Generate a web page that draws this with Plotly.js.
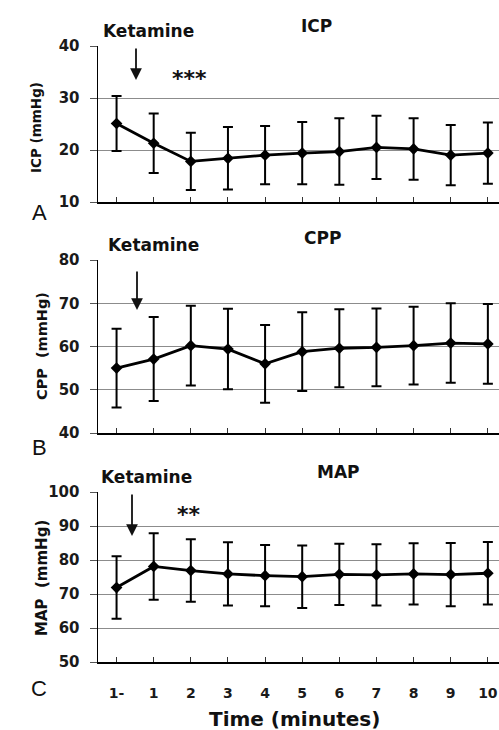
<!DOCTYPE html>
<html>
<head>
<meta charset="utf-8">
<script src="https://cdn.plot.ly/plotly-3.0.1.min.js"></script>
<style>html,body{margin:0;padding:0;background:#fff;}#chart{width:499px;height:730px;}</style>
</head>
<body>
<div id="chart"></div>
<script>
// ---- data ----
var timeLabels = ["1-","1","2","3","4","5","6","7","8","9","10"];
var icpMean = [25.1, 21.3, 17.8, 18.4, 19.0, 19.4, 19.7, 20.5, 20.2, 19.0, 19.4];
var icpSD   = [5.3, 5.7, 5.5, 6.0, 5.6, 6.0, 6.4, 6.1, 5.9, 5.8, 5.9];
var cppMean = [55.0, 57.1, 60.2, 59.4, 56.0, 58.8, 59.6, 59.8, 60.2, 60.8, 60.6];
var cppSD   = [9.1, 9.7, 9.2, 9.3, 9.0, 9.1, 9.0, 9.0, 9.0, 9.2, 9.2];
var mapMean = [71.9, 78.1, 76.9, 75.9, 75.4, 75.1, 75.8, 75.6, 75.9, 75.7, 76.1];
var mapSD   = [9.2, 9.8, 9.2, 9.3, 9.0, 9.2, 9.0, 9.0, 9.0, 9.3, 9.2];
var panelTitles = ["ICP", "CPP", "MAP"];
var yTitles = ["ICP (mmHg)", "CPP  (mmHg)", "MAP  (mmHg)"];
var panelLetters = ["A", "B", "C"];
var yTicks = [[10,20,30,40],[40,50,60,70,80],[50,60,70,80,90,100]];

// ---- layout helpers (pixel -> paper) ----
var W = 499, H = 730;
function px(x){ return x / W; }
function py(y){ return 1 - y / H; }
var BOLD = "DejaVu Sans, Arial, sans-serif";

function trace(y, sd, xa, ya){
  return {
    x: timeLabels, y: y, xaxis: xa, yaxis: ya,
    type: "scatter", mode: "lines+markers",
    line: {color: "#000", width: 2.8},
    marker: {symbol: "diamond", size: 9, color: "#000"},
    error_y: {type: "data", array: sd, symmetric: true, color: "#000", thickness: 2, width: 5},
    showlegend: false, hoverinfo: "skip"
  };
}

var data = [
  trace(icpMean, icpSD, "x", "y"),
  trace(cppMean, cppSD, "x2", "y2"),
  trace(mapMean, mapSD, "x3", "y3")
];

function xaxis(anchor, showLabels){
  return {
    type: "category", anchor: anchor, domain: [px(98), 1],
    range: [-0.5, 10.3], showgrid: false, zeroline: false,
    showline: true, linecolor: "#000", linewidth: 1.5,
    ticks: "inside", ticklen: 5, tickcolor: "#333", tickwidth: 1,
    showticklabels: showLabels, ticklabelstandoff: 18,
    tickfont: {family: BOLD, size: 14, color: "#1a1a1a", weight: "bold"}, fixedrange: true
  };
}
function yaxis(anchor, dom, rng, ticks){
  return {
    anchor: anchor, domain: dom, range: rng,
    tickvals: ticks, showgrid: true, gridcolor: "#8c8c8c", gridwidth: 1,
    zeroline: false, showline: true, linecolor: "#000", linewidth: 1.5,
    ticks: "outside", ticklen: 7, tickcolor: "#555", tickwidth: 1,
    ticklabelstandoff: 7,
    tickfont: {family: BOLD, size: 15, color: "#1a1a1a", weight: "bold"}, fixedrange: true
  };
}

var ann = [];
function txt(t, x, y, size, fam, extra){
  var a = {text: t, x: px(x), y: py(y), xref: "paper", yref: "paper",
           showarrow: false, xanchor: "center", yanchor: "middle",
           font: {family: fam || BOLD, size: size, color: "#111"}};
  if (extra) for (var k in extra) a[k] = extra[k];
  ann.push(a);
}
function arrow(x, yTip, len){
  ann.push({text: "", x: px(x), y: py(yTip), xref: "paper", yref: "paper",
            showarrow: true, ax: 0, ay: -len, arrowhead: 2, arrowsize: 1.3,
            arrowwidth: 1.8, arrowcolor: "#111"});
}

// titles
txt("<b>" + panelTitles[0] + "</b>", 316, 26, 17);
txt("<b>" + panelTitles[1] + "</b>", 322, 238, 17);
txt("<b>" + panelTitles[2] + "</b>", 338, 472, 17);
// Ketamine labels + arrows
txt("<b>Ketamine</b>", 148, 31, 17);
txt("<b>Ketamine</b>", 153, 245, 17);
txt("<b>Ketamine</b>", 146, 477, 17);
arrow(136, 80, 33);
arrow(137, 310, 40);
arrow(132, 536, 43);
// significance marks
txt("<b>***</b>", 189, 78, 22);
txt("<b>**</b>", 189, 514, 22);
// panel letters
txt(panelLetters[0], 39, 213, 22, "Liberation Sans, Arial, sans-serif");
txt(panelLetters[1], 39, 447, 22, "Liberation Sans, Arial, sans-serif");
txt(panelLetters[2], 39, 688, 22, "Liberation Sans, Arial, sans-serif");
// y axis titles
txt("<b>" + yTitles[0] + "</b>", 36, 128, 13.5, BOLD, {textangle: -90});
txt("<b>" + yTitles[1] + "</b>", 42, 346, 14.5, BOLD, {textangle: -90});
txt("<b>" + yTitles[2] + "</b>", 42, 578, 15, BOLD, {textangle: -90});
// x axis title
txt("<b>Time (minutes)</b>", 294, 719, 20);

var layout = {
  width: W, height: H,
  margin: {l: 0, r: 0, t: 0, b: 0, pad: 0},
  paper_bgcolor: "#fff", plot_bgcolor: "#fff",
  showlegend: false,
  xaxis: xaxis("y", false),
  xaxis2: xaxis("y2", false),
  xaxis3: xaxis("y3", true),
  yaxis: yaxis("x", [py(202), py(46)], [10, 40], yTicks[0]),
  yaxis2: yaxis("x2", [py(433), py(260)], [40, 80], yTicks[1]),
  yaxis3: yaxis("x3", [py(662), py(492)], [50, 100], yTicks[2]),
  annotations: ann
};

Plotly.newPlot("chart", data, layout, {displayModeBar: false, staticPlot: true});
</script>
</body>
</html>
